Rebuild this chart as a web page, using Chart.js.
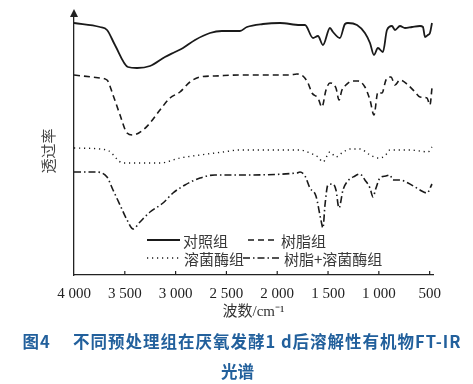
<!DOCTYPE html>
<html>
<head>
<meta charset="utf-8">
<script src="https://cdn.jsdelivr.net/npm/chart.js@4.4.1/dist/chart.umd.min.js"></script>
<style>
  body { margin: 0; background: #fff; }
  #wrap { position: relative; width: 473px; height: 384px; }
  #wrap canvas { position: absolute; left: 0; top: 0; }
  .cap { position: absolute; left: 0; width: 473px; box-sizing: border-box; text-align: center;
         font-family: "Noto Sans CJK SC", sans-serif; font-weight: bold; font-size: 16.5px;
         color: #22609c; line-height: 30px; white-space: nowrap; }
</style>
</head>
<body>
<div id="wrap">
  <canvas id="ftir" width="473" height="384"></canvas>
  <div class="cap" style="top:326px; padding-left:11px; letter-spacing:1px">图4　 不同预处理组在厌氧发酵1 d后溶解性有机物FT-IR</div>
  <div class="cap" style="top:356px; padding-left:2px">光谱</div>
</div>
<script>
// 图例名称
const seriesNames = ['对照组', '树脂组', '溶菌酶组', '树脂+溶菌酶组'];
const xTicks = [4000, 3500, 3000, 2500, 2000, 1500, 1000, 500];
const xTickLabels = ['4 000', '3 500', '3 000', '2 500', '2 000', '1 500', '1 000', '500'];

// 对照组
const controlWn = [4000, 3744, 3675, 3597, 3469, 3380, 3252, 3105, 3006, 2927, 2809, 2662, 2544, 2367, 2298, 2140, 1973, 1776,
    1727, 1648, 1599, 1550, 1481, 1451, 1383, 1333, 1304, 1215, 1137, 1087, 1048, 1009, 960, 920, 871, 841, 792, 743, 674,
    595, 566, 546, 517, 497, 477];
const controlT = [252, 248, 245, 230, 208, 207, 209, 218, 223, 227, 235, 242, 244, 244, 248, 251, 252, 250,
    250, 237, 239, 230, 247, 243, 237, 251, 252, 250, 242, 232, 220, 227, 223, 245, 249, 245, 249, 247, 248,
    249, 248, 238, 240, 242, 252];

// 树脂组
const resinWn = [4000, 3744, 3675, 3616, 3547, 3478, 3419, 3321, 3252, 3154, 3055, 2957, 2859, 2760, 2613, 2367, 1875, 1806,
    1747, 1697, 1658, 1599, 1560, 1520, 1481, 1422, 1392, 1363, 1324, 1265, 1206, 1137, 1087, 1048, 1009, 969, 930, 881,
    841, 792, 713, 644, 595, 526, 497, 477];
const resinT = [200, 197, 195, 180, 160, 142, 140, 145, 152, 165, 177, 183, 193, 198, 199, 200, 200, 201,
    199, 192, 182, 177, 168, 185, 192, 187, 175, 185, 190, 194, 194, 188, 175, 160, 183, 182, 195, 198,
    190, 195, 190, 183, 178, 177, 170, 187];

// 溶菌酶组
const lysoWn = [4000, 3744, 3656, 3518, 3154, 2957, 2760, 2534, 2367, 1776, 1678, 1599, 1550, 1481, 1422, 1363, 1284, 1186,
    1087, 1009, 940, 891, 694, 595, 516, 477];
const lysoT = [127, 126, 124, 112, 112, 117, 120, 123, 125, 125, 122, 118, 113, 123, 118, 122, 126, 126,
    120, 117, 119, 125, 125, 124, 123, 128];

// 树脂+溶菌酶组
const bothWn = [4000, 3793, 3675, 3616, 3547, 3478, 3419, 3351, 3252, 3124, 3026, 2908, 2760, 2613, 2416, 1806, 1776, 1727,
    1678, 1619, 1570, 1550, 1530, 1501, 1451, 1422, 1392, 1353, 1314, 1235, 1186, 1137, 1087, 1058, 1028, 989, 930, 891,
    861, 792, 713, 644, 595, 526, 477];
const bothT = [103, 103, 98, 85, 70, 55, 46, 53, 63, 72, 82, 90, 97, 100, 100, 102, 103, 99,
    87, 79, 55, 47, 70, 90, 91, 85, 67, 85, 93, 99, 101, 95, 87, 78, 87, 97, 99, 100,
    95, 95, 92, 88, 85, 82, 91];

const toPoints = (wn, t) => wn.map((w, i) => ({ x: w, y: t[i] }));
const dashes = [[], [6, 4], [1.2, 3.8], [7, 3, 1.5, 3]];
const widths = [1.8, 1.6, 1.4, 1.6];

const datasets = [
    toPoints(controlWn, controlT),
    toPoints(resinWn, resinT),
    toPoints(lysoWn, lysoT),
    toPoints(bothWn, bothT),
].map((pts, i) => ({
    label: seriesNames[i],
    data: pts,
    borderColor: '#1a1a1a',
    borderWidth: widths[i],
    borderDash: dashes[i],
    pointRadius: 0,
    cubicInterpolationMode: 'monotone',
    fill: false,
}));

// 坐标轴箭头、内刻度、图例
const decor = {
    id: 'decor',
    afterDraw(chart) {
        const { ctx, chartArea: a, scales: { x } } = chart;
        ctx.save();
        ctx.strokeStyle = '#222';
        ctx.fillStyle = '#222';
        ctx.lineWidth = 1.2;
        xTicks.slice(1).forEach(v => {
            const px = x.getPixelForValue(v);
            ctx.beginPath();
            ctx.moveTo(px, a.bottom);
            ctx.lineTo(px, a.bottom - 4);
            ctx.stroke();
        });
        ctx.beginPath();
        ctx.moveTo(a.left, a.top - 3);
        ctx.lineTo(a.left - 4, a.top + 5);
        ctx.lineTo(a.left + 4, a.top + 5);
        ctx.closePath();
        ctx.fill();

        const spots = [[147, 240, 33], [248, 240, 30], [147, 258, 34], [243, 258, 38]];
        ctx.font = '15px "Noto Sans CJK SC"';
        ctx.textBaseline = 'middle';
        datasets.forEach((ds, i) => {
            const [lx, ly, lw] = spots[i];
            ctx.setLineDash(ds.borderDash);
            ctx.lineWidth = ds.borderWidth;
            ctx.strokeStyle = '#1a1a1a';
            ctx.beginPath();
            ctx.moveTo(lx, ly);
            ctx.lineTo(lx + lw, ly);
            ctx.stroke();
            ctx.setLineDash([]);
            ctx.fillStyle = '#383838';
            ctx.fillText(ds.label, lx + lw + 3, ly + 1);
        });
        ctx.restore();
    },
};

new Chart(document.querySelector('#ftir'), {
    type: 'line',
    data: { datasets },
    options: {
        responsive: false,
        animation: false,
        devicePixelRatio: 1,
        layout: { padding: { left: 0, right: 40, top: 12, bottom: 0 } },
        plugins: { legend: { display: false }, tooltip: { enabled: false } },
        scales: {
            x: {
                type: 'linear',
                reverse: true,
                min: 467,
                max: 4000,
                afterBuildTicks: s => { s.ticks = xTicks.map(v => ({ value: v })); },
                afterFit: s => { s.height = 109; },
                grid: { display: false, drawTicks: false },
                border: { display: true, color: '#222', width: 1.3 },
                ticks: {
                    padding: 10,
                    maxRotation: 0,
                    autoSkip: false,
                    color: '#222',
                    font: { family: '"Liberation Serif"', size: 15 },
                    callback: v => xTickLabels[xTicks.indexOf(v)],
                },
                title: {
                    display: true,
                    text: '波数/cm⁻¹',
                    color: '#333',
                    font: { family: '"Liberation Serif", "Noto Sans CJK SC"', size: 15 },
                    padding: { top: 0, bottom: 63 },
                },
            },
            y: {
                min: 0,
                max: 263,
                afterFit: s => { s.width = 74; },
                grid: { display: false, drawTicks: false },
                border: { display: true, color: '#222', width: 1.3 },
                ticks: { display: false },
                title: {
                    display: true,
                    text: '透过率　',
                    color: '#444',
                    font: { family: '"Noto Sans CJK SC"', size: 15 },
                    padding: { top: 39, bottom: 0 },
                },
            },
        },
    },
    plugins: [decor],
});
</script>
</body>
</html>
